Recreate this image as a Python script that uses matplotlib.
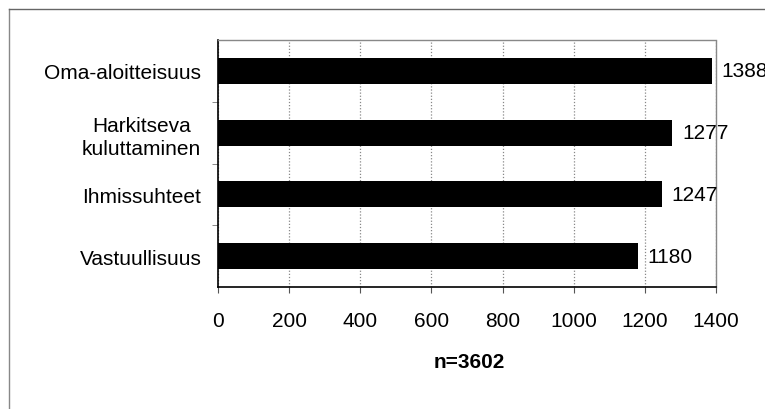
import matplotlib
matplotlib.use("Agg")
import matplotlib.pyplot as plt
from matplotlib.lines import Line2D

plt.rcParams['font.family'] = ['Liberation Sans', 'DejaVu Sans']

# Aineisto
luokat = ["Oma-aloitteisuus", "Harkitseva\nkuluttaminen", "Ihmissuhteet", "Vastuullisuus"]
arvot = [1388, 1277, 1247, 1180]
x_ticks = [0, 200, 400, 600, 800, 1000, 1200, 1400]
otsikko_x = "n=3602"

fig = plt.figure(figsize=(7.65, 4.10), dpi=100)
ax = fig.add_axes([218 / 765, 1 - 288 / 410, (716 - 218) / 765, (288 - 41) / 410])

y = list(range(len(luokat)))
ax.barh(y, arvot, height=0.42, color="black", zorder=3)

for yi, v in zip(y, arvot):
    ax.annotate(str(v), (v, yi), xytext=(7, 0), textcoords="offset points",
                va="center", ha="left", fontsize=15, annotation_clip=False)

ax.set_xlim(0, 1400)
ax.set_ylim(3.5, -0.5)
ax.set_xticks(x_ticks)
ax.set_xticklabels([str(t) for t in x_ticks], fontsize=15)
ax.set_yticks(y)
ax.set_yticklabels(luokat, fontsize=15, multialignment="center", linespacing=1.3)
ax.tick_params(axis="y", length=0, pad=12)
ax.tick_params(axis="x", length=4, pad=13, color="#555555")

# kategoriarajojen pienet merkit
ax.set_yticks([0.5, 1.5, 2.5], minor=True)
ax.tick_params(axis="y", which="minor", length=4, color="#777777")

ax.grid(axis="x", color="#888888", linestyle=(0, (1, 1.5)), linewidth=0.9, zorder=0)
ax.spines["left"].set_color("black")
ax.spines["bottom"].set_color("black")
ax.spines["left"].set_linewidth(1.2)
ax.spines["bottom"].set_linewidth(1.2)
for s in ("top", "right"):
    ax.spines[s].set_color("#888888")
    ax.spines[s].set_linestyle((0, (1, 1)))
    ax.spines[s].set_linewidth(1.0)

fig.text(469 / 765, 1 - 363 / 410, otsikko_x, ha="center", va="center",
         fontsize=15, fontweight="bold")

# kehys kuvan ympärillä
fig.add_artist(Line2D([9 / 765, 9 / 765], [0, 1 - 10 / 410], color="#888888", lw=1.0,
                      transform=fig.transFigure))
fig.add_artist(Line2D([9 / 765, 1], [1 - 10 / 410, 1 - 10 / 410], color="#666666", lw=1.0,
                      transform=fig.transFigure))

fig.savefig("out.png", dpi=100)
